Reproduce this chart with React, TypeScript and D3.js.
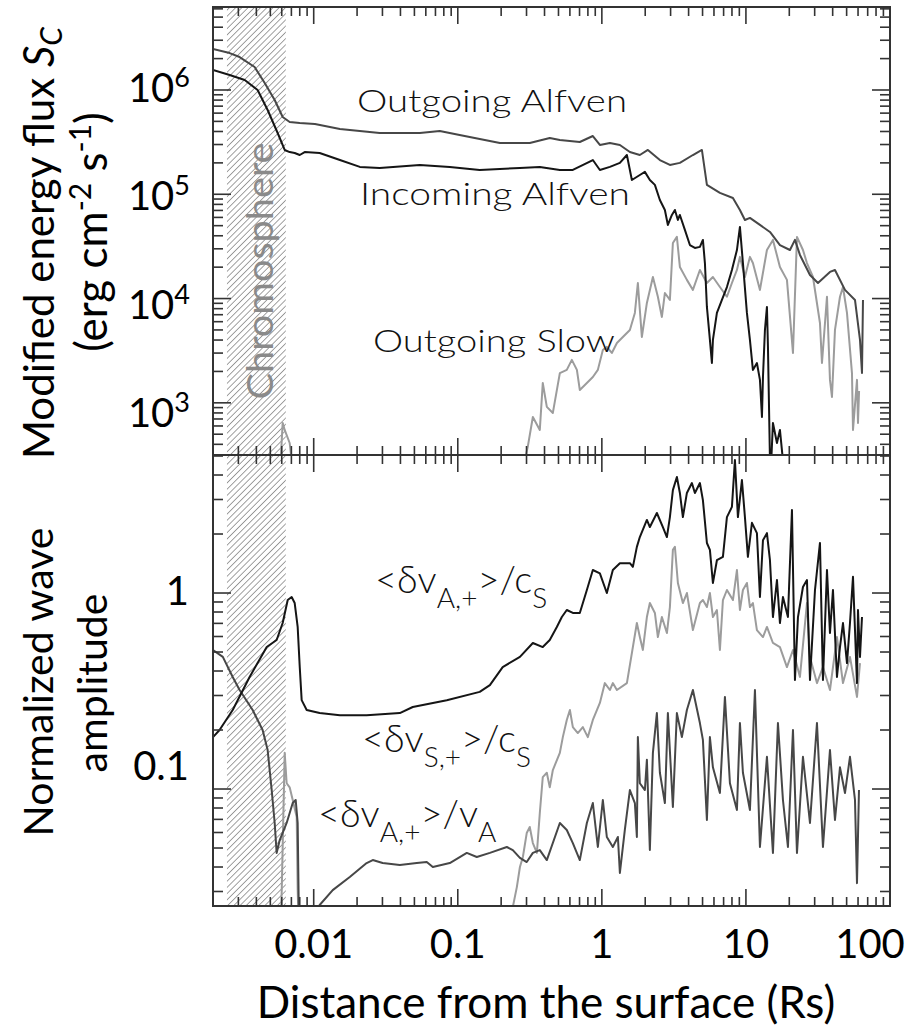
import React from "react";
import * as d3 from "d3";

// ---------- data ----------
const xDomain: [number, number] = [0.002, 100];
const fluxDomain: [number, number] = [316, 6.25e6];
const ampDomain: [number, number] = [0.0253, 5.06];
const chromosphere: [number, number] = [0.0025, 0.0064];

const xTickValues = [0.01, 0.1, 1, 10, 100];
const xTickLabels = ["0.01", "0.1", "1", "10", "100"];
const fluxTickExps = [3, 4, 5, 6];
const ampTickValues = [0.1, 1];
const ampTickLabels = ["0.1", "1"];

type P = [number, number];

const outgoingAlfven: P[] = [
  [0.002, 2.47e6], [0.00261, 2.26e6], [0.00306, 2.07e6], [0.00389, 1.66e6], [0.00457, 1.167e6],
  [0.00536, 8.02e5], [0.00609, 5.51e5], [0.00681, 4.93e5], [0.008, 4.83e5], [0.0102, 4.72e5],
  [0.0152, 4.23e5], [0.0287, 3.87e5], [0.0545, 3.87e5], [0.075, 4.05e5], [0.103, 3.7e5],
  [0.196, 3.1e5], [0.316, 3.1e5], [0.435, 3.47e5], [0.511, 3.32e5], [0.703, 3.17e5],
  [0.866, 3.62e5], [0.969, 2.97e5], [1.137, 3.1e5], [1.334, 2.97e5], [1.565, 2.54e5],
  [1.835, 2.38e5], [2.087, 2.66e5], [2.528, 2.13e5], [2.967, 1.91e5], [3.48, 2.0e5],
  [4.285, 2.38e5], [4.948, 2.66e5], [5.36, 1.23e5], [6.598, 1.03e5], [8.124, 9.21e4],
  [9.085, 7.07e4], [9.842, 5.67e4], [10.66, 5.93e4], [12.51, 5.08e4], [14.68, 4.35e4],
  [17.22, 3.26e4], [20.21, 2.92e4], [21.89, 3.65e4], [23.71, 2.62e4], [27.83, 1.68e4],
  [31.62, 1.41e4], [38.31, 1.8e4], [41.5, 1.88e4], [48.7, 1.21e4], [57.14, 9.7e3],
  [61.9, 4.01e3], [63.91, 1.93e3], [64.94, 9.7e3],
];

const incomingAlfven: P[] = [
  [0.002, 1.555e6], [0.00261, 1.39e6], [0.00332, 1.247e6], [0.00408, 1.0e6], [0.00479, 6.43e5],
  [0.00562, 3.87e5], [0.00629, 2.66e5], [0.00681, 2.54e5], [0.00738, 2.49e5], [0.008, 2.38e5],
  [0.00866, 2.54e5], [0.011, 2.49e5], [0.0152, 2.13e5], [0.0209, 1.83e5], [0.0287, 1.79e5],
  [0.0545, 1.91e5], [0.088, 1.83e5], [0.142, 1.71e5], [0.196, 1.75e5], [0.2695, 1.79e5],
  [0.371, 1.83e5], [0.511, 1.71e5], [0.629, 1.71e5], [0.866, 2.13e5], [0.969, 1.71e5],
  [1.137, 1.83e5], [1.334, 2.0e5], [1.492, 2.38e5], [1.616, 1.37e5], [1.835, 1.53e5],
  [1.989, 1.64e5], [2.154, 1.37e5], [2.334, 1.23e5], [2.528, 8.82e4], [2.738, 7.07e4],
  [2.873, 5.08e4], [3.063, 6.33e4], [3.214, 7.07e4], [3.371, 5.67e4], [3.48, 6.33e4],
  [3.77, 4.55e4], [4.084, 3.26e4], [4.424, 3.06e4], [4.792, 3.13e4], [5.028, 3.65e4],
  [5.192, 2.19e4], [5.36, 8.31e3], [5.623, 4.01e3], [5.806, 2.41e3], [5.9, 4.01e3],
  [6.289, 7.28e3], [6.813, 9.7e3], [7.381, 1.29e4], [7.994, 1.88e4], [8.66, 2.92e4],
  [9.085, 4.86e4], [9.532, 2.19e4], [10.16, 7.28e3], [10.66, 4.01e3], [11.18, 2.07e3],
  [11.92, 2.41e3], [12.51, 1.66e3], [12.92, 7.32e2], [13.13, 1.77e3], [13.55, 5.0e3],
  [13.99, 8.31e3], [14.22, 3.44e3], [14.68, 2.84e2], [15.0, 2.84e2], [15.4, 6.42e2],
  [16.42, 4.12e2], [17.22, 5.5e2], [18.07, 2.8e2],
];

const outgoingSlowChromo: P[] = [
  [0.0059, 2.84e2], [0.00609, 6.42e2], [0.00629, 5.5e2], [0.00681, 4.12e2], [0.00703, 2.84e2],
];

const outgoingSlow: P[] = [
  [0.292, 2.84e2], [0.306, 3.78e2], [0.332, 7.32e2], [0.371, 5.5e2], [0.389, 1.55e3],
  [0.415, 9.14e2], [0.457, 8.0e2], [0.511, 1.93e3], [0.571, 2.07e3], [0.619, 2.58e3],
  [0.671, 2.07e3], [0.703, 1.33e3], [0.787, 1.55e3], [0.866, 1.77e3], [0.938, 2.07e3],
  [1.016, 3.21e3], [1.083, 3.44e3], [1.173, 3.01e3], [1.272, 3.75e3], [1.399, 4.28e3],
  [1.565, 5.0e3], [1.695, 7.28e3], [1.778, 1.41e4], [1.895, 4.28e3], [2.054, 9.07e3],
  [2.261, 1.61e4], [2.448, 1.04e4], [2.61, 6.66e3], [2.738, 1.13e4], [2.967, 9.7e3],
  [3.112, 3.41e4], [3.317, 3.9e4], [3.48, 2.01e4], [3.893, 1.51e4], [4.285, 1.21e4],
  [4.792, 1.88e4], [5.36, 1.41e4], [5.9, 1.61e4], [6.598, 1.29e4], [7.381, 1.04e4],
  [7.994, 1.41e4], [8.66, 1.88e4], [9.085, 2.51e4], [9.842, 1.61e4], [10.66, 2.51e4],
  [11.18, 2.19e4], [12.51, 1.21e4], [13.99, 2.92e4], [15.4, 3.65e4], [17.22, 2.01e4],
  [19.26, 1.51e4], [21.21, 3.01e3], [22.61, 3.9e4], [24.88, 2.92e4], [26.52, 2.19e4],
  [29.2, 1.61e4], [32.65, 5.83e3], [33.71, 2.41e3], [36.52, 1.04e4], [38.31, 1.66e3],
  [39.55, 1.14e3], [41.5, 5.0e3], [44.96, 1.04e4], [47.17, 1.29e4], [50.28, 7.28e3],
  [54.46, 1.93e3], [55.35, 5.5e2], [59.0, 1.66e3], [59.95, 6.42e2], [61.0, 1.3e3],
];

const dvAcs: P[] = [
  [0.002, 0.184], [0.00222, 0.2], [0.00274, 0.253], [0.00359, 0.373], [0.00472, 0.53],
  [0.00553, 0.576], [0.00609, 0.703], [0.0066, 0.921], [0.00703, 0.954], [0.00738, 0.889],
  [0.00774, 0.671], [0.008, 0.419], [0.00825, 0.284], [0.00894, 0.253], [0.011, 0.244],
  [0.0152, 0.238], [0.0233, 0.238], [0.0396, 0.244], [0.0487, 0.262], [0.0839, 0.284],
  [0.142, 0.313], [0.167, 0.339], [0.205, 0.419], [0.27, 0.472], [0.332, 0.556],
  [0.389, 0.53], [0.435, 0.576], [0.487, 0.671], [0.5275, 0.754], [0.571, 0.819],
  [0.629, 0.791], [0.703, 0.791], [0.787, 1.036], [0.866, 1.31], [0.969, 1.26],
  [1.083, 1.0], [1.192, 1.31], [1.334, 1.42], [1.565, 1.42], [1.642, 1.36],
  [1.75, 1.72], [1.835, 1.93], [2.054, 2.36], [2.154, 2.17], [2.409, 2.56],
  [2.652, 2.17], [2.828, 1.93], [2.967, 2.44], [3.112, 3.35], [3.317, 3.91],
  [3.48, 3.24], [3.651, 2.44], [3.893, 3.24], [4.217, 3.64], [4.424, 3.24],
  [4.792, 3.64], [5.028, 2.98], [5.36, 1.8], [5.623, 1.66], [5.9, 1.125],
  [6.289, 1.47], [6.923, 1.53], [7.381, 2.44], [7.994, 2.75], [8.388, 4.77],
  [8.799, 2.44], [9.38, 3.77], [9.842, 2.44], [10.32, 1.53], [11.01, 2.28],
  [11.92, 2.02], [12.51, 0.954], [13.13, 1.86], [13.99, 2.02], [14.68, 1.47],
  [15.4, 0.754], [16.42, 1.165], [17.22, 0.703], [18.07, 0.954], [19.57, 0.754],
  [20.87, 2.65], [21.89, 0.36], [22.97, 0.754], [24.88, 1.073], [26.52, 1.165],
  [27.83, 0.36], [30.15, 1.036], [32.65, 1.8], [34.25, 0.36], [36.52, 1.31],
  [38.31, 0.625], [40.19, 1.036], [42.84, 0.373], [44.96, 0.53], [47.17, 0.703],
  [50.28, 0.439], [52.75, 0.703], [55.35, 1.21], [59.0, 0.347], [59.95, 0.819],
  [61.9, 0.472], [63.91, 0.754],
];

const dvSChromo: P[] = [
  [0.0059, 0.02], [0.006, 0.0305], [0.00629, 0.153], [0.00649, 0.107], [0.00681, 0.102],
  [0.00715, 0.0879], [0.00762, 0.072], [0.00774, 0.0305], [0.00787, 0.02],
];

const dvScs: P[] = [
  [0.23, 0.02], [0.241, 0.025], [0.257, 0.0316], [0.27, 0.04], [0.283, 0.045],
  [0.301, 0.0596], [0.316, 0.064], [0.332, 0.053], [0.354, 0.0472], [0.371, 0.0754],
  [0.389, 0.115], [0.415, 0.121], [0.435, 0.102], [0.457, 0.125], [0.511, 0.153],
  [0.536, 0.184], [0.571, 0.225], [0.6, 0.253], [0.629, 0.207], [0.681, 0.193],
  [0.738, 0.207], [0.799, 0.184], [0.866, 0.225], [0.969, 0.275], [1.049, 0.347],
  [1.137, 0.32], [1.192, 0.347], [1.272, 0.32], [1.492, 0.347], [1.75, 0.703],
  [1.835, 0.596], [1.926, 0.512], [2.054, 0.754], [2.154, 0.889], [2.334, 0.791],
  [2.448, 0.596], [2.61, 0.754], [2.828, 0.625], [2.967, 0.848], [3.112, 1.66],
  [3.214, 1.72], [3.371, 1.125], [3.651, 0.889], [3.893, 1.0], [4.285, 0.647],
  [4.792, 0.889], [5.028, 0.921], [5.36, 0.848], [5.623, 1.0], [5.9, 0.754],
  [6.289, 0.819], [6.598, 0.512], [6.923, 0.921], [7.381, 1.036], [8.124, 0.921],
  [8.66, 1.31], [9.085, 0.819], [9.532, 1.036], [10.16, 1.125], [10.66, 0.848],
  [11.18, 0.889], [11.92, 0.647], [13.13, 0.596], [13.99, 0.671], [15.4, 0.556],
  [17.22, 0.53], [19.26, 0.419], [21.21, 0.512], [23.71, 0.373], [26.52, 0.889],
  [27.83, 0.472], [31.12, 0.347], [34.25, 0.419], [38.31, 0.32], [42.84, 0.596],
  [47.17, 0.347], [52.75, 0.472], [59.0, 0.295], [61.9, 0.439],
];

const dvAvA: P[] = [
  [0.002, 0.512], [0.00234, 0.472], [0.00274, 0.373], [0.00306, 0.32], [0.00377, 0.253],
  [0.00442, 0.2], [0.00479, 0.158], [0.00511, 0.0988], [0.00536, 0.0671], [0.00553, 0.0472],
  [0.00581, 0.0549], [0.00649, 0.0671], [0.00715, 0.0848], [0.0075, 0.0879], [0.00774, 0.0671],
  [0.00787, 0.0262], [0.008, 0.019], [0.009, 0.018], [0.011, 0.0256], [0.01355, 0.0305],
  [0.0178, 0.0356], [0.0233, 0.0419], [0.0257, 0.0434], [0.0301, 0.0419], [0.0396, 0.041],
  [0.0519, 0.0419], [0.0609, 0.0424], [0.0671, 0.04], [0.088, 0.0419], [0.1155, 0.0472],
  [0.1355, 0.045], [0.167, 0.0472], [0.219, 0.0506], [0.241, 0.0488], [0.27, 0.0445],
  [0.301, 0.0424], [0.332, 0.0472], [0.371, 0.0488], [0.415, 0.0434], [0.511, 0.0671],
  [0.571, 0.0618], [0.629, 0.053], [0.703, 0.0434], [0.787, 0.0671], [0.866, 0.0848],
  [0.938, 0.0506], [1.016, 0.0879], [1.083, 0.0569], [1.192, 0.0506], [1.292, 0.0569],
  [1.334, 0.0373], [1.444, 0.0618], [1.565, 0.0988], [1.695, 0.0848], [1.75, 0.0569],
  [1.778, 0.184], [1.835, 0.107], [1.989, 0.0988], [2.054, 0.141], [2.154, 0.0488],
  [2.261, 0.153], [2.409, 0.244], [2.528, 0.121], [2.738, 0.0848], [2.873, 0.244],
  [3.112, 0.081], [3.317, 0.244], [3.593, 0.184], [3.893, 0.253], [4.285, 0.32],
  [4.792, 0.217], [5.028, 0.178], [5.36, 0.0695], [5.623, 0.184], [5.9, 0.129],
  [6.598, 0.0954], [7.149, 0.295], [7.743, 0.107], [8.66, 0.0781], [9.085, 0.217],
  [9.532, 0.121], [10.66, 0.0781], [11.55, 0.32], [12.51, 0.0506], [13.99, 0.146],
  [15.4, 0.0472], [16.68, 0.217], [18.07, 0.0879], [19.57, 0.0506], [21.21, 0.2],
  [22.61, 0.0472], [24.88, 0.146], [27.83, 0.0671], [31.12, 0.217], [34.25, 0.0506],
  [38.31, 0.158], [41.5, 0.0695], [44.96, 0.129], [48.7, 0.0954], [52.75, 0.146],
  [57.14, 0.0879], [59.0, 0.0331], [60.91, 0.0988],
];

// ---------- layout ----------
const W = 908;
const H = 1029;
const L = 213, R = 890, T = 7, MID = 455, B = 906;

const AX = "#333";
const C_BLACK = "#151515";
const C_DARK = "#474747";
const C_LIGHT = "#9c9c9c";
const SANS = "Lato, 'Open Sans', sans-serif";

function logTicks(lo: number, hi: number) {
  const out: { v: number; major: boolean }[] = [];
  for (let e = Math.floor(Math.log10(lo)); e <= Math.ceil(Math.log10(hi)); e++) {
    for (let m = 1; m <= 9; m++) {
      const v = m * Math.pow(10, e);
      if (v >= lo * 0.9999 && v <= hi * 1.0001) out.push({ v, major: m === 1 });
    }
  }
  return out;
}

export default function App() {
  const x = d3.scaleLog().domain(xDomain).range([L, R]);
  const yTop = d3.scaleLog().domain(fluxDomain).range([MID, T]);
  const yBot = d3.scaleLog().domain(ampDomain).range([B, MID]);
  // hand-placed label positions follow the ticks with a small drift
  const topLabelY = d3.scaleLog().domain([1e3, 1e6]).range([427, 102]);
  const botLabelY = d3.scaleLog().domain([0.1, 1]).range([780, 605]);

  const lineTop = d3.line<P>().x((d) => x(d[0])).y((d) => yTop(d[1]));
  const lineBot = d3.line<P>().x((d) => x(d[0])).y((d) => yBot(d[1]));

  const xt = logTicks(xDomain[0], xDomain[1]);
  const ytTop = logTicks(fluxDomain[0], fluxDomain[1]);
  const ytBot = logTicks(ampDomain[0], ampDomain[1]);

  const xMaj = 17, xMin = 9, yMaj = 18, yMin = 10;

  const chromoX0 = x(chromosphere[0]);
  const chromoX1 = x(chromosphere[1]);

  const labelFont = { fontFamily: SANS, fontWeight: 300 as const, fontSize: 31, fill: "#111" };
  const mathFont = { fontFamily: SANS, fontWeight: 300 as const, fontSize: 38, fill: "#111" };
  const SUB = 28;
  const SUBDY = 15;

  return (
    <svg width={W} height={H} style={{ position: "absolute", left: 0, top: 0, background: "#fff" }}>
      <defs>
        <clipPath id="clipTop"><rect x={L} y={T} width={R - L} height={MID - T} /></clipPath>
        <clipPath id="clipBot"><rect x={L} y={MID} width={R - L} height={B - MID} /></clipPath>
        <pattern id="hatch" patternUnits="userSpaceOnUse" width={4.4} height={4.4} patternTransform="rotate(45)">
          <line x1={0} y1={0} x2={0} y2={4.4} stroke="#555" strokeWidth={1.1} />
        </pattern>
      </defs>

      {/* chromosphere hatch */}
      <rect x={chromoX0} y={T} width={chromoX1 - chromoX0} height={B - T} fill="url(#hatch)" />
      <text
        transform={`translate(${chromoX1 - 13},271) rotate(-90)`}
        textAnchor="middle"
        fontFamily={SANS}
        fontSize={37}
        fill="#8a8a8a"
        textLength={257}
        lengthAdjust="spacingAndGlyphs"
      >
        Chromosphere
      </text>

      {/* top panel curves */}
      <g clipPath="url(#clipTop)" fill="none" strokeWidth={2} strokeLinejoin="round">
        <path d={lineTop(outgoingSlowChromo) || ""} stroke={C_LIGHT} />
        <path d={lineTop(outgoingSlow) || ""} stroke={C_LIGHT} />
        <path d={lineTop(outgoingAlfven) || ""} stroke={C_DARK} />
        <path d={lineTop(incomingAlfven) || ""} stroke={C_BLACK} />
      </g>

      {/* bottom panel curves */}
      <g clipPath="url(#clipBot)" fill="none" strokeWidth={2} strokeLinejoin="round">
        <path d={lineBot(dvSChromo) || ""} stroke={C_LIGHT} />
        <path d={lineBot(dvScs) || ""} stroke={C_LIGHT} />
        <path d={lineBot(dvAvA) || ""} stroke={C_DARK} />
        <path d={lineBot(dvAcs) || ""} stroke={C_BLACK} />
      </g>

      {/* frame */}
      <g stroke={AX} strokeWidth={2} fill="none">
        <rect x={L} y={T} width={R - L} height={B - T} />
        <line x1={L} x2={R} y1={MID} y2={MID} />
      </g>

      {/* ticks */}
      <g stroke={AX} strokeWidth={1.6}>
        {xt.map((t, i) => {
          const px = x(t.v);
          const len = t.major ? xMaj : xMin;
          return (
            <g key={i}>
              <line x1={px} x2={px} y1={T} y2={T + len} />
              <line x1={px} x2={px} y1={MID} y2={MID - len} />
              <line x1={px} x2={px} y1={MID} y2={MID + len} />
              <line x1={px} x2={px} y1={B} y2={B - len} />
            </g>
          );
        })}
        {ytTop.map((t, i) => {
          const py = yTop(t.v);
          const len = t.major ? yMaj : yMin;
          return (
            <g key={"t" + i}>
              <line x1={L} x2={L + len} y1={py} y2={py} />
              <line x1={R} x2={R - len} y1={py} y2={py} />
            </g>
          );
        })}
        {ytBot.map((t, i) => {
          const py = yBot(t.v);
          const len = t.major ? yMaj : yMin;
          return (
            <g key={"b" + i}>
              <line x1={L} x2={L + len} y1={py} y2={py} />
              <line x1={R} x2={R - len} y1={py} y2={py} />
            </g>
          );
        })}
      </g>

      {/* y tick labels */}
      <g fontFamily={SANS} fill="#000">
        {fluxTickExps.map((e) => (
          <text key={e} x={190} y={topLabelY(Math.pow(10, e))} textAnchor="end" fontSize={40}>
            10
            <tspan fontSize={27} dy={-15}>{e}</tspan>
          </text>
        ))}
        {ampTickValues.map((v, i) => (
          <text key={v} x={189} y={botLabelY(v)} textAnchor="end" fontSize={40}>
            {ampTickLabels[i]}
          </text>
        ))}
      </g>

      {/* x tick labels */}
      <g fontFamily={SANS} fill="#000" fontSize={40}>
        {xTickValues.map((v, i) => {
          const px = Math.min(x(v), W - 38);
          return (
            <text key={v} x={px} y={958} textAnchor="middle">
              {xTickLabels[i]}
            </text>
          );
        })}
      </g>

      {/* axis titles */}
      <text x={546} y={1018} textAnchor="middle" fontFamily={SANS} fontSize={44} fill="#000">
        Distance from the surface (Rs)
      </text>
      <text transform="translate(54,243) rotate(-90)" textAnchor="middle" fontFamily={SANS} fontSize={42} fill="#000">
        Modified energy flux <tspan fontStyle="italic">S</tspan>
        <tspan fontStyle="italic" fontSize={30} dy={8}>C</tspan>
      </text>
      <text transform="translate(107,232) rotate(-90)" textAnchor="middle" fontFamily={SANS} fontSize={44} fill="#000">
        (erg cm<tspan fontSize={30} dy={-16}>-2</tspan>
        <tspan dy={16}> s</tspan>
        <tspan fontSize={30} dy={-16}>-1</tspan>
        <tspan dy={16}>)</tspan>
      </text>
      <text transform="translate(53,682) rotate(-90)" textAnchor="middle" fontFamily={SANS} fontSize={41} fill="#000">
        Normalized wave
      </text>
      <text transform="translate(107,683) rotate(-90)" textAnchor="middle" fontFamily={SANS} fontSize={41} fill="#000">
        amplitude
      </text>

      {/* in-plot labels */}
      <text x={357} y={112} {...labelFont} textLength={270} lengthAdjust="spacingAndGlyphs">Outgoing Alfven</text>
      <text x={360} y={205} {...labelFont} textLength={270} lengthAdjust="spacingAndGlyphs">Incoming Alfven</text>
      <text x={373} y={352} {...labelFont} textLength={242} lengthAdjust="spacingAndGlyphs">Outgoing Slow</text>

      <text x={375} y={593} {...mathFont}>
        &lt;δv<tspan fontSize={SUB} dy={SUBDY}>A,+</tspan>
        <tspan dy={-SUBDY}>&gt;/c</tspan>
        <tspan fontSize={SUB} dy={SUBDY}>S</tspan>
      </text>
      <text x={362} y={752} {...mathFont}>
        &lt;δv<tspan fontSize={SUB} dy={SUBDY}>S,+</tspan>
        <tspan dy={-SUBDY}>&gt;/c</tspan>
        <tspan fontSize={SUB} dy={SUBDY}>S</tspan>
      </text>
      <text x={318} y={827} {...mathFont}>
        &lt;δv<tspan fontSize={SUB} dy={SUBDY}>A,+</tspan>
        <tspan dy={-SUBDY}>&gt;/v</tspan>
        <tspan fontSize={SUB} dy={SUBDY}>A</tspan>
      </text>
    </svg>
  );
}
